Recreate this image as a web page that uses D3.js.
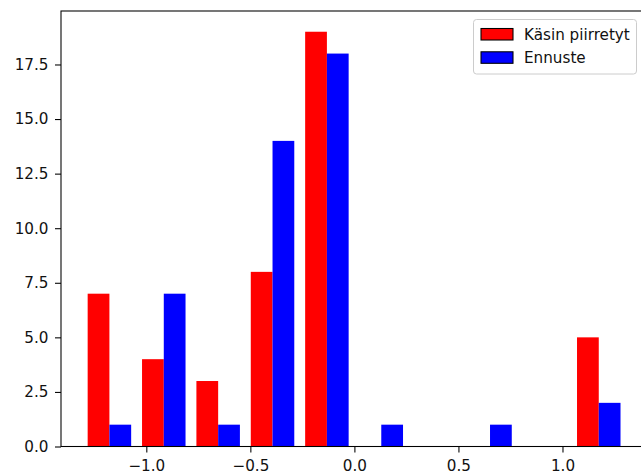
<!DOCTYPE html>
<html>
<head>
<meta charset="utf-8">
<script src="https://cdn.jsdelivr.net/npm/d3@7"></script>
<style>
  body { margin: 0; background: #fff; }
  svg { display: block; font-family: "DejaVu Sans", sans-serif; }
</style>
</head>
<body>
<script>
// histogram bin edges (10 bins)
var binEdges = [-1.308, -1.0467, -0.7854, -0.5241, -0.2628, -0.0015, 0.2598, 0.5211, 0.7824, 1.0437, 1.305];
// counts per bin
var seriesNames = ["Käsin piirretyt", "Ennuste"];
var kasinValues = [7, 4, 3, 8, 19, 0, 0, 0, 0, 5];
var ennusteValues = [1, 7, 1, 14, 18, 1, 0, 1, 0, 2];
var seriesColors = ["#ff0000", "#0000ff"];
var xTicks = [-1.0, -0.5, 0.0, 0.5, 1.0];
var yTicks = [0, 2.5, 5, 7.5, 10, 12.5, 15, 17.5];

var width = 641, height = 473;
var plotLeft = 61, plotTop = 11, plotBottom = 446.5, plotRight = 653;

var svg = d3.select("body").append("svg")
    .attr("width", width)
    .attr("height", height);

svg.append("rect").attr("width", width).attr("height", height).attr("fill", "#fff");

var x = d3.scaleLinear().domain([-1.410, 1.435]).range([plotLeft, plotRight]);
var y = d3.scaleLinear().domain([0, 19.95]).range([plotBottom, plotTop]);

//build bar list from both series
var allSeries = [kasinValues, ennusteValues];
var bars = [];
allSeries.forEach(function(vals, s){
    vals.forEach(function(v, i){
        var e0 = binEdges[i], w = binEdges[i + 1] - binEdges[i];
        bars.push({
            x0: e0 + w * (0.1 + 0.4 * s),
            x1: e0 + w * (0.5 + 0.4 * s),
            value: v,
            color: seriesColors[s]
        });
    });
});

svg.append("g").selectAll("rect")
    .data(bars.filter(function(d){ return d.value > 0; }))
    .enter()
    .append("rect")
    .attr("x", function(d){ return x(d.x0); })
    .attr("width", function(d){ return x(d.x1) - x(d.x0); })
    .attr("y", function(d){ return y(d.value); })
    .attr("height", function(d){ return y(0) - y(d.value); })
    .attr("fill", function(d){ return d.color; });

//axes
var fmtX = function(d){ return d3.format(".1f")(d).replace("-", "\u2212"); };
var xAxis = svg.append("g")
    .attr("transform", "translate(0," + plotBottom + ")")
    .call(d3.axisBottom(x).tickValues(xTicks).tickFormat(fmtX).tickSize(6).tickPadding(7.5).tickSizeOuter(0));
var yAxis = svg.append("g")
    .attr("transform", "translate(" + plotLeft + ",0)")
    .call(d3.axisLeft(y).tickValues(yTicks).tickFormat(d3.format(".1f")).tickSize(6).tickPadding(6.5).tickSizeOuter(0));

[xAxis, yAxis].forEach(function(g){
    g.attr("font-size", null).attr("font-family", null);
    g.select(".domain").remove();
    g.selectAll(".tick line").attr("stroke", "#000").attr("stroke-width", 1.07);
    g.selectAll(".tick text")
        .style("font-size", "15.2px")
        .style("font-family", "'DejaVu Sans', sans-serif")
        .attr("fill", "#111");
});

//spines
svg.append("rect")
    .attr("x", plotLeft).attr("y", plotTop)
    .attr("width", plotRight - plotLeft).attr("height", plotBottom - plotTop)
    .attr("fill", "none")
    .attr("stroke", "#000")
    .attr("stroke-width", 1.07);

//legend
var legend = svg.append("g").attr("transform", "translate(473.5,19.5)");
legend.append("rect")
    .attr("width", 163).attr("height", 54.5)
    .attr("rx", 3)
    .attr("fill", "#fff").attr("fill-opacity", 0.8)
    .attr("stroke", "#cccccc").attr("stroke-width", 1);
seriesNames.forEach(function(name, i){
    var row = legend.append("g").attr("transform", "translate(0," + (i * 23.3) + ")");
    row.append("rect")
        .attr("x", 7.5).attr("y", 9)
        .attr("width", 32).attr("height", 11.5)
        .attr("fill", seriesColors[i])
        .attr("stroke", "#000").attr("stroke-width", 1.07);
    row.append("text")
        .attr("x", 50.5).attr("y", 20.5)
        .style("font-size", "15.2px")
        .attr("fill", "#111")
        .text(name);
});
</script>
</body>
</html>
